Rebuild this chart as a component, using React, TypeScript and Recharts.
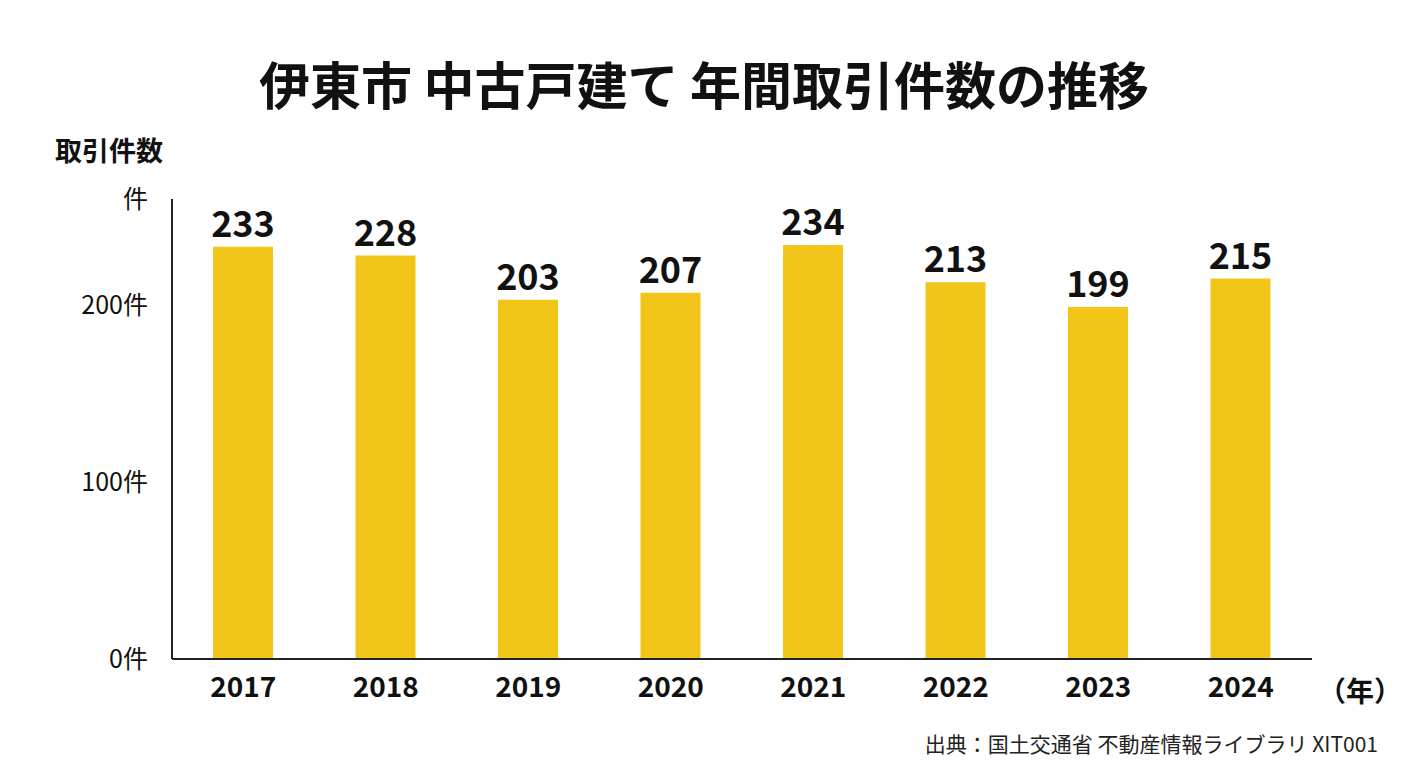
import { BarChart, Bar, XAxis, YAxis, LabelList } from "recharts"

const years = ["2017", "2018", "2019", "2020", "2021", "2022", "2023", "2024"]
const counts = [233, 228, 203, 207, 234, 213, 199, 215]
const yTicks = [0, 100, 200, 260]

const data = years.map((year, i) => ({ year, count: counts[i] }))

const font = "'Noto Sans CJK JP', 'Noto Sans', sans-serif"

export default function App() {
  return (
    <div style={{ position: "absolute", left: 0, top: 0, width: 1408, height: 768, background: "#fff", fontFamily: font, color: "#111" }}>
      <div style={{ position: "absolute", top: 48, width: 1408, textAlign: "center", fontSize: 51, fontWeight: 700, lineHeight: "70px" }}>
        伊東市 中古戸建て 年間取引件数の推移
      </div>
      <div style={{ position: "absolute", left: 55, top: 130, fontSize: 27, fontWeight: 700 }}>取引件数</div>
      <div style={{ position: "absolute", left: 1318, top: 670, fontSize: 28, fontWeight: 700 }}>（年）</div>
      <div style={{ position: "absolute", right: 30, top: 728, fontSize: 21, color: "#222" }}>
        出典：国土交通省 不動産情報ライブラリ XIT001
      </div>
      <BarChart width={1408} height={768} data={data} margin={{ top: 199, right: 96, left: 0, bottom: 79 }}>
        <XAxis
          dataKey="year"
          axisLine={{ stroke: "#222", strokeWidth: 2 }}
          tickLine={false}
          tick={{ fontSize: 28, fontWeight: 700, fill: "#111", fontFamily: font }}
          tickMargin={12}
        />
        <YAxis
          width={172}
          domain={[0, 260]}
          ticks={yTicks}
          axisLine={{ stroke: "#222", strokeWidth: 2 }}
          tickLine={false}
          tickMargin={18}
          tick={{ fontSize: 25, fill: "#111", fontFamily: font }}
          tickFormatter={(v: number) => (v === 260 ? "件" : `${v}件`)}
        />
        <Bar dataKey="count" fill="#F2C618" barSize={60} isAnimationActive={false}>
          <LabelList dataKey="count" position="top" offset={10} style={{ fontSize: 36, fontWeight: 700, fill: "#111", fontFamily: font }} />
        </Bar>
      </BarChart>
    </div>
  )
}
